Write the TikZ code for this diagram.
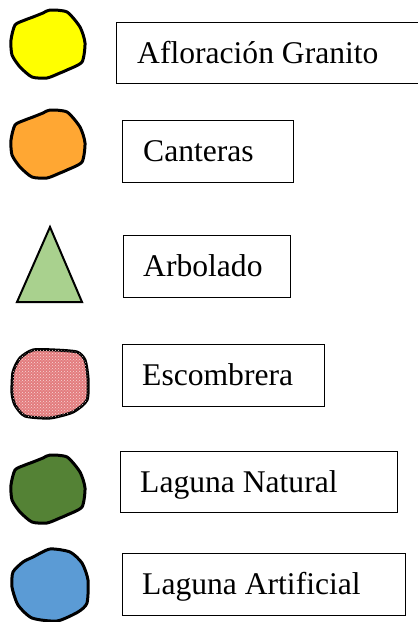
\documentclass[tikz,border=0pt]{standalone}
\usepackage{fontspec}
\setmainfont{Liberation Serif}
\usetikzlibrary{patterns}
\definecolor{cYel}{HTML}{FFFF00}
\definecolor{cOra}{HTML}{FFA733}
\definecolor{cTri}{HTML}{A9D18E}
\definecolor{cPink}{HTML}{E37C7E}
\definecolor{cGrn}{HTML}{548235}
\definecolor{cBlu}{HTML}{5B9BD5}
\tikzset{
  blob/.style={draw=black, line width=3pt, line join=round},
  legbox/.style={draw=black, line width=1.4pt, rectangle, inner sep=0pt},
  lbl/.style={anchor=base west, inner sep=0pt, font=\fontsize{31.6}{36}\selectfont}
}
\begin{document}
\begin{tikzpicture}[x=1pt,y=-1pt]
\useasboundingbox (0,0) rectangle (418,622);
\clip (0,0) rectangle (418,622);
% shapes
\def\blobpath{plot[smooth cycle, tension=0.4] coordinates {(50,10) (67,12) (80,27) (85,43) (82,62) (67,70) (60,73) (47,78) (32,77) (20,67) (12,55) (11,40) (15,25) (25,20) (33,17) (43,13)}}
\path[blob, fill=cYel] \blobpath;
\begin{scope}[yshift=-100pt]
\path[blob, fill=cOra] \blobpath;
\end{scope}
\begin{scope}[yshift=-445pt]
\path[blob, fill=cGrn] \blobpath;
\end{scope}
\path[blob, fill=cBlu] plot[smooth cycle, tension=0.4] coordinates {(50,549) (70,552) (82,563) (88,580) (87,603) (78,612) (57,621) (32,618) (18,605) (12,587) (13,572) (23,562) (33,557)};
\path[blob, fill=cPink, postaction={pattern=crosshatch dots, pattern color=white!70!cPink}] plot[smooth cycle, tension=0.4] coordinates {(33,350) (55,350) (77,352) (85,360) (88,378) (87,400) (73,412) (50,418) (25,416) (15,405) (12,393) (13,372) (20,358)};
\path[draw=black, line width=2pt, line join=miter, fill=cTri] (50,227) -- (82,302) -- (17,302) -- cycle;
% boxes
\node[legbox, minimum width=310pt, minimum height=61pt, anchor=north west] (b1) at (116,22) {};
\node[legbox, minimum width=171pt, minimum height=62pt, anchor=north west] (b2) at (122,120) {};
\node[legbox, minimum width=167pt, minimum height=62pt, anchor=north west] (b3) at (123,235) {};
\node[legbox, minimum width=202pt, minimum height=62pt, anchor=north west] (b4) at (122,344) {};
\node[legbox, minimum width=277pt, minimum height=61pt, anchor=north west] (b5) at (120,451) {};
\node[legbox, minimum width=283pt, minimum height=62pt, anchor=north west] (b6) at (122,553) {};
% labels
\node[lbl] (t1) at (137,63) {Afloración Granito};
\node[lbl] (t2) at (143,161.5) {Canteras};
\node[lbl] (t3) at (143,276.5) {Arbolado};
\node[lbl] (t4) at (142,385.5) {Escombrera};
\node[lbl] (t5) at (140,492) {Laguna Natural};
\node[lbl] (t6) at (142,594.5) {Laguna Artificial};
\end{tikzpicture}
\end{document}
